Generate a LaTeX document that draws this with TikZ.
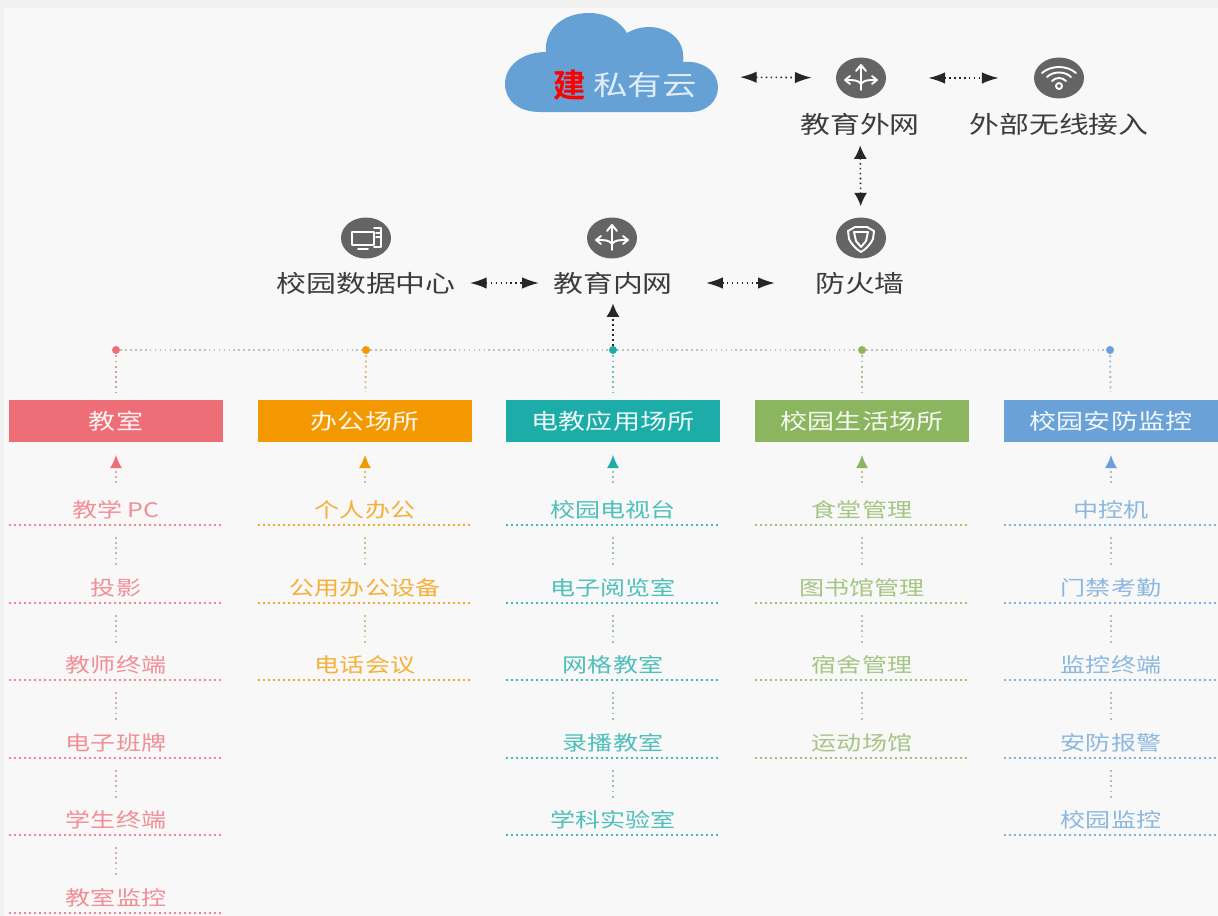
\documentclass[tikz,border=0pt]{standalone}
\usepackage{fontspec}
\usetikzlibrary{arrows.meta,shapes.geometric}
\newfontfamily\cjk[FakeStretch=1.25]{Noto Sans CJK SC}
\newfontfamily\cjkbold{Noto Sans CJK SC Bold}
\definecolor{fondo}{HTML}{F8F8F8}
\definecolor{borde}{HTML}{F1F1F1}
\definecolor{nube}{HTML}{66A1D6}
\definecolor{icono}{HTML}{646464}
\definecolor{letra}{HTML}{3C3C3C}
\definecolor{roomc}{HTML}{EE6E78}
\definecolor{officec}{HTML}{F39800}
\definecolor{mediac}{HTML}{1CADA8}
\definecolor{lifec}{HTML}{8CB560}
\definecolor{safec}{HTML}{6AA2D8}
\tikzset{
  icon/.style={ellipse, fill=icono, minimum width=1cm, minimum height=0.82cm, inner sep=0pt},
  glyph/.style={draw=white, line width=1.1pt, line cap=round, line join=round},
  netlabel/.style={font=\cjk\fontsize{13.6}{14}\selectfont, text=letra, inner sep=0pt},
  twoway/.style={draw=black!85, line width=0.9pt, dash pattern=on 0.9pt off 1.9pt,
    {Latex[length=9.5pt,width=6.5pt]}-{Latex[length=9.5pt,width=6.5pt]}},
  upright/.style={draw=black!85, line width=0.9pt, dash pattern=on 0.9pt off 1.9pt,
    {Latex[length=7.6pt,width=7.4pt]}-{Latex[length=7.6pt,width=7.4pt]}},
  oneway/.style={draw=black!85, line width=0.9pt, dash pattern=on 0.9pt off 1.9pt,
    -{Latex[length=7.6pt,width=7.4pt]}},
  bus/.style={draw=black!25, line width=0.9pt, dash pattern=on 0.9pt off 1.9pt},
  dotnode/.style={circle, fill=#1, minimum size=0.16cm, inner sep=0pt},
  place/.style={fill=#1, minimum width=4.28cm, minimum height=0.86cm, inner sep=0pt,
    text=white!92!#1, font=\cjk\fontsize{12.3}{13}\selectfont},
  item/.style={minimum width=4.28cm, minimum height=0.58cm, inner sep=0pt,
    text=#1!78!white, font=\cjk\fontsize{11.4}{12}\selectfont},
  rule/.style={draw=#1!85!white, line width=1.05pt, dash pattern=on 1.05pt off 1.8pt},
  stem/.style={draw=#1!50!gray!60!white, line width=1.05pt, dash pattern=on 1.05pt off 1.9pt,
    shorten <=0.24cm, shorten >=0.12cm},
  rise/.style={draw=#1!50!gray!60!white, line width=1.05pt, dash pattern=on 1.05pt off 1.9pt,
    shorten <=0.24cm, shorten >=0.24cm, -{Latex[length=7.6pt,width=7pt,#1]}},
  drop/.style={draw=#1!70!gray!70!white, line width=1.05pt, dash pattern=on 1.05pt off 1.9pt,
    shorten <=0.02cm, shorten >=0.14cm},
}
\newcommand{\netglyph}[1]{
  \begin{scope}[shift={(#1)}]
    \draw[glyph] (0,12) -- (0,-12);
    \draw[glyph] (-5,-7) -- (0,-13) -- (5,-7);
    \draw[glyph] (0,6) .. controls (-3,2) and (-7,2) .. (-15,2);
    \draw[glyph] (-11,-2) -- (-16,2) -- (-11,6);
    \draw[glyph] (0,6) .. controls (3,2) and (7,2) .. (15,2);
    \draw[glyph] (11,-2) -- (16,2) -- (11,6);
  \end{scope}
}
\begin{document}
\begin{tikzpicture}[x=0.02cm, y=-0.02cm]
        \useasboundingbox (0,0) rectangle (1218,916);
        % Fondo
        \fill[borde] (0,0) rectangle (1218,916);
        \fill[fondo] (4,8) rectangle (1218,916);
        % Nube
        \fill[nube] (540,112) .. controls (518,112) and (505,100) .. (505,84)
            .. controls (505,66) and (522,52) .. (546,52)
            .. controls (544,30) and (562,13) .. (589,13)
            .. controls (606,13) and (620,21) .. (627,33)
            .. controls (650,19) and (687,30) .. (683,62)
            .. controls (703,60) and (718,72) .. (718,87)
            .. controls (718,101) and (707,112) .. (690,112) -- cycle;
        \node[inner sep=0pt, text=red, font=\cjkbold\fontsize{18.5}{19}\selectfont] (jian) at (570,85) {建};
        \node[inner sep=0pt, text=white!80!nube, font=\cjk\fontsize{15.7}{16}\selectfont] (cloudtext) at (645,85) {私有云};
        \coordinate (cloudedge) at (718,77);
        % Iconos
        \node[icon] (outernet) at (861,78) {};
        \netglyph{861,78}
        \node[icon] (wifi) at (1059,78) {};
        \draw[glyph] (1042,73) .. controls (1051,65) and (1067,65) .. (1076,73);
        \draw[glyph] (1047,77) .. controls (1053,71) and (1065,71) .. (1071,77);
        \draw[glyph] (1052,81) .. controls (1056,77) and (1062,77) .. (1066,81);
        \draw[glyph] (1059,86) circle (3);
        \node[icon] (firewall) at (861,238) {};
        \draw[glyph] (848,231) -- (855,227) -- (867,227) -- (874,231) -- (873,239) .. controls (870,245) and (866,249) .. (861,252) .. controls (856,249) and (852,245) .. (849,239) -- cycle;
        \draw[glyph] (854,232) -- (868,232) -- (866,241) -- (861,247) -- (856,241) -- cycle;
        \node[icon] (center) at (366,238) {};
        \draw[glyph] (352,232) rectangle (374,245);
        \draw[glyph] (374,228) -- (381,228) -- (381,247) -- (374,247);
        \draw[glyph] (358,249) -- (368,249);
        \draw[glyph] (376,233) -- (380,233);
        \draw[glyph] (376,237) -- (380,237);
        \node[icon] (innernet) at (612,238) {};
        \netglyph{612,238}
        % Redes
        \node[netlabel] (outerlabel) at (860,124) {教育外网};
        \node[netlabel] (wifilabel) at (1059,124) {外部无线接入};
        \node[netlabel] (centerlabel) at (366,283) {校园数据中心};
        \node[netlabel] (innerlabel) at (613,283) {教育内网};
        \node[netlabel] (firelabel) at (860,283) {防火墙};
        \draw[twoway, shorten <=0.44cm, shorten >=0.48cm] (cloudedge) -- (outernet);
        \draw[twoway, shorten <=0.84cm, shorten >=0.7cm] (outernet) -- (wifi);
        \draw[upright, shorten <=0.2cm, shorten >=0.22cm] (outerlabel) -- (firewall);
        \draw[twoway, shorten <=0.28cm, shorten >=0.28cm] (centerlabel) -- (innerlabel);
        \draw[twoway, shorten <=0.66cm, shorten >=0.8cm] (innerlabel) -- (firelabel);
        % Barra
        \node[dotnode=roomc] (roomdot) at (116,350) {};
        \node[dotnode=officec] (officedot) at (366,350) {};
        \node[dotnode=mediac] (mediadot) at (613,350) {};
        \node[dotnode=lifec] (lifedot) at (862,350) {};
        \node[dotnode=safec] (safedot) at (1110,350) {};
        \draw[bus] (roomdot) -- (officedot);
        \draw[bus] (officedot) -- (mediadot);
        \draw[bus] (mediadot) -- (lifedot);
        \draw[bus] (lifedot) -- (safedot);
        \draw[oneway, shorten >=0.18cm] (mediadot) -- (innerlabel);
        % Lugares
        \node[place=roomc] (room) at (116,421) {教室};
        \node[place=officec] (office) at (365,421) {办公场所};
        \node[place=mediac] (media) at (613,421) {电教应用场所};
        \node[place=lifec] (life) at (862,421) {校园生活场所};
        \node[place=safec] (safe) at (1111,421) {校园安防监控};
        \draw[drop=roomc] (roomdot) -- (room);
        \draw[drop=officec] (officedot) -- (office);
        \draw[drop=mediac] (mediadot) -- (media);
        \draw[drop=lifec] (lifedot) -- (life);
        \draw[drop=safec] (safedot) -- (safe);
        % Columna roja
        \node[item=roomc] (room1) at (116,510) {教学 PC};
        \node[item=roomc] (room2) at (116,588) {投影};
        \node[item=roomc] (room3) at (116,665) {教师终端};
        \node[item=roomc] (room4) at (116,743) {电子班牌};
        \node[item=roomc] (room5) at (116,820) {学生终端};
        \node[item=roomc] (room6) at (116,898) {教室监控};
        \draw[rise=roomc] (room1) -- (room);
        \draw[stem=roomc] (room1.south) -- (room2.north);
        \draw[stem=roomc] (room2.south) -- (room3.north);
        \draw[stem=roomc] (room3.south) -- (room4.north);
        \draw[stem=roomc] (room4.south) -- (room5.north);
        \draw[stem=roomc] (room5.south) -- (room6.north);
        \draw[rule=roomc] (room1.south west) -- (room1.south east);
        \draw[rule=roomc] (room2.south west) -- (room2.south east);
        \draw[rule=roomc] (room3.south west) -- (room3.south east);
        \draw[rule=roomc] (room4.south west) -- (room4.south east);
        \draw[rule=roomc] (room5.south west) -- (room5.south east);
        \draw[rule=roomc] (room6.south west) -- (room6.south east);
        % Columna naranja
        \node[item=officec] (office1) at (365,510) {个人办公};
        \node[item=officec] (office2) at (365,588) {公用办公设备};
        \node[item=officec] (office3) at (365,665) {电话会议};
        \draw[rise=officec] (office1) -- (office);
        \draw[stem=officec] (office1.south) -- (office2.north);
        \draw[stem=officec] (office2.south) -- (office3.north);
        \draw[rule=officec] (office1.south west) -- (office1.south east);
        \draw[rule=officec] (office2.south west) -- (office2.south east);
        \draw[rule=officec] (office3.south west) -- (office3.south east);
        % Columna turquesa
        \node[item=mediac] (media1) at (613,510) {校园电视台};
        \node[item=mediac] (media2) at (613,588) {电子阅览室};
        \node[item=mediac] (media3) at (613,665) {网格教室};
        \node[item=mediac] (media4) at (613,743) {录播教室};
        \node[item=mediac] (media5) at (613,820) {学科实验室};
        \draw[rise=mediac] (media1) -- (media);
        \draw[stem=mediac] (media1.south) -- (media2.north);
        \draw[stem=mediac] (media2.south) -- (media3.north);
        \draw[stem=mediac] (media3.south) -- (media4.north);
        \draw[stem=mediac] (media4.south) -- (media5.north);
        \draw[rule=mediac] (media1.south west) -- (media1.south east);
        \draw[rule=mediac] (media2.south west) -- (media2.south east);
        \draw[rule=mediac] (media3.south west) -- (media3.south east);
        \draw[rule=mediac] (media4.south west) -- (media4.south east);
        \draw[rule=mediac] (media5.south west) -- (media5.south east);
        % Columna verde
        \node[item=lifec] (life1) at (862,510) {食堂管理};
        \node[item=lifec] (life2) at (862,588) {图书馆管理};
        \node[item=lifec] (life3) at (862,665) {宿舍管理};
        \node[item=lifec] (life4) at (862,743) {运动场馆};
        \draw[rise=lifec] (life1) -- (life);
        \draw[stem=lifec] (life1.south) -- (life2.north);
        \draw[stem=lifec] (life2.south) -- (life3.north);
        \draw[stem=lifec] (life3.south) -- (life4.north);
        \draw[rule=lifec] (life1.south west) -- (life1.south east);
        \draw[rule=lifec] (life2.south west) -- (life2.south east);
        \draw[rule=lifec] (life3.south west) -- (life3.south east);
        \draw[rule=lifec] (life4.south west) -- (life4.south east);
        % Columna azul
        \node[item=safec] (safe1) at (1111,510) {中控机};
        \node[item=safec] (safe2) at (1111,588) {门禁考勤};
        \node[item=safec] (safe3) at (1111,665) {监控终端};
        \node[item=safec] (safe4) at (1111,743) {安防报警};
        \node[item=safec] (safe5) at (1111,820) {校园监控};
        \draw[rise=safec] (safe1) -- (safe);
        \draw[stem=safec] (safe1.south) -- (safe2.north);
        \draw[stem=safec] (safe2.south) -- (safe3.north);
        \draw[stem=safec] (safe3.south) -- (safe4.north);
        \draw[stem=safec] (safe4.south) -- (safe5.north);
        \draw[rule=safec] (safe1.south west) -- (safe1.south east);
        \draw[rule=safec] (safe2.south west) -- (safe2.south east);
        \draw[rule=safec] (safe3.south west) -- (safe3.south east);
        \draw[rule=safec] (safe4.south west) -- (safe4.south east);
        \draw[rule=safec] (safe5.south west) -- (safe5.south east);
    \end{tikzpicture}
\end{document}
